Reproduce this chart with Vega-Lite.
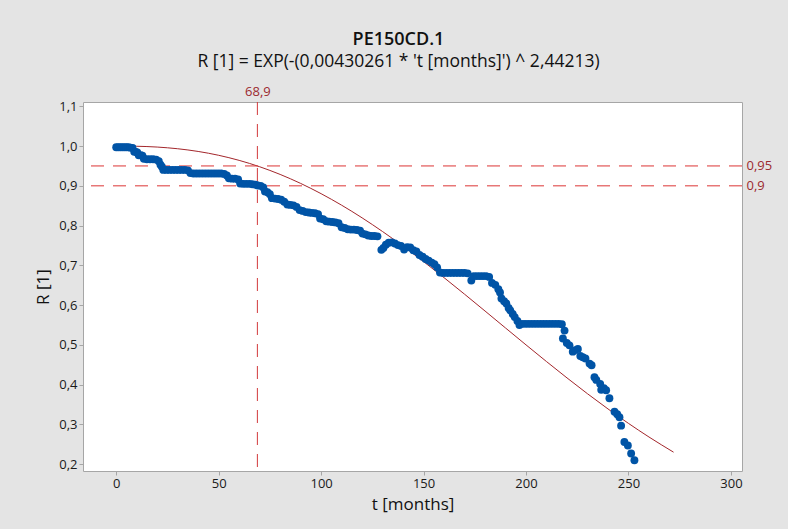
{
  "$schema": "https://vega.github.io/schema/vega-lite/v6.json",
  "width": 659,
  "height": 369,
  "autosize": {"type": "none"},
  "padding": {"left": 83, "top": 102, "right": 46, "bottom": 58},
  "background": "#e4e4e4",
  "title": {
    "text": "PE150CD.1",
    "subtitle": "R [1] = EXP(-(0,00430261 * 't [months]') ^ 2,44213)",
    "anchor": "middle",
    "dx": -14,
    "offset": 15,
    "font": "Open Sans",
    "fontSize": 18,
    "fontWeight": 600,
    "color": "#111111",
    "subtitleFont": "Open Sans",
    "subtitleFontSize": 17.5,
    "subtitleColor": "#111111",
    "subtitlePadding": 4
  },
  "config": {
    "view": {"fill": "#ffffff", "stroke": "#a6a6a6", "strokeWidth": 1},
    "font": "Open Sans",
    "axis": {
      "grid": false,
      "domain": false,
      "labelFont": "Open Sans",
      "labelFontSize": 13,
      "labelColor": "#1a1a1a",
      "tickColor": "#a6a6a6",
      "tickSize": 4,
      "labelPadding": 2,
      "titleFont": "Open Sans",
      "titleFontSize": 17,
      "titleFontWeight": "normal",
      "titleColor": "#111111"
    }
  },
  "datasets": {
    "observed": [
      {"t": 0, "R": 0.997}, {"t": 1, "R": 0.997}, {"t": 2, "R": 0.997}, {"t": 3, "R": 0.997},
      {"t": 4, "R": 0.997}, {"t": 5, "R": 0.997}, {"t": 6, "R": 0.997}, {"t": 7, "R": 0.996},
      {"t": 8, "R": 0.995},
      {"t": 8.8, "R": 0.986}, {"t": 9.6, "R": 0.985}, {"t": 10.3, "R": 0.984},
      {"t": 11, "R": 0.977}, {"t": 12, "R": 0.977}, {"t": 12.8, "R": 0.976},
      {"t": 13.5, "R": 0.968}, {"t": 15, "R": 0.967}, {"t": 16.5, "R": 0.967}, {"t": 18, "R": 0.967},
      {"t": 19.5, "R": 0.966}, {"t": 20.8, "R": 0.962},
      {"t": 21.6, "R": 0.953}, {"t": 22.3, "R": 0.948},
      {"t": 23, "R": 0.94}, {"t": 24.5, "R": 0.94}, {"t": 26, "R": 0.94}, {"t": 27.5, "R": 0.94},
      {"t": 29, "R": 0.94}, {"t": 30.5, "R": 0.94}, {"t": 32, "R": 0.94}, {"t": 33.5, "R": 0.94},
      {"t": 35, "R": 0.939},
      {"t": 36.2, "R": 0.932}, {"t": 37.7, "R": 0.931}, {"t": 39.2, "R": 0.931}, {"t": 40.7, "R": 0.931},
      {"t": 42.2, "R": 0.931}, {"t": 43.7, "R": 0.931}, {"t": 45.2, "R": 0.931}, {"t": 46.7, "R": 0.931},
      {"t": 48.2, "R": 0.931}, {"t": 49.7, "R": 0.931}, {"t": 51.2, "R": 0.931}, {"t": 52.7, "R": 0.93},
      {"t": 54, "R": 0.926},
      {"t": 55, "R": 0.919}, {"t": 56.5, "R": 0.918}, {"t": 58, "R": 0.918}, {"t": 59.5, "R": 0.916},
      {"t": 60.5, "R": 0.906}, {"t": 62, "R": 0.905}, {"t": 63.5, "R": 0.905}, {"t": 65, "R": 0.905},
      {"t": 66.5, "R": 0.904}, {"t": 68, "R": 0.903},
      {"t": 69, "R": 0.901}, {"t": 70.5, "R": 0.9}, {"t": 71.8, "R": 0.896},
      {"t": 72.6, "R": 0.886}, {"t": 73.8, "R": 0.884}, {"t": 75, "R": 0.879},
      {"t": 76, "R": 0.869}, {"t": 77.5, "R": 0.868}, {"t": 79, "R": 0.867}, {"t": 80.5, "R": 0.865},
      {"t": 82, "R": 0.86},
      {"t": 83.5, "R": 0.853}, {"t": 85, "R": 0.852}, {"t": 86.5, "R": 0.851}, {"t": 88, "R": 0.847},
      {"t": 89.5, "R": 0.839}, {"t": 91, "R": 0.837},
      {"t": 92.5, "R": 0.834}, {"t": 94, "R": 0.833}, {"t": 95.5, "R": 0.832}, {"t": 97, "R": 0.831},
      {"t": 98.5, "R": 0.829},
      {"t": 99.5, "R": 0.818}, {"t": 101, "R": 0.816},
      {"t": 102.5, "R": 0.811}, {"t": 104, "R": 0.81}, {"t": 105.5, "R": 0.809}, {"t": 107, "R": 0.808},
      {"t": 108.5, "R": 0.806},
      {"t": 110, "R": 0.796}, {"t": 111.5, "R": 0.794},
      {"t": 113, "R": 0.791}, {"t": 114.5, "R": 0.79}, {"t": 116, "R": 0.79}, {"t": 117.5, "R": 0.789},
      {"t": 119, "R": 0.787},
      {"t": 120.2, "R": 0.78}, {"t": 121.6, "R": 0.778},
      {"t": 123, "R": 0.775}, {"t": 124.5, "R": 0.774}, {"t": 126, "R": 0.774}, {"t": 127.5, "R": 0.773},
      {"t": 129.4, "R": 0.739}, {"t": 130.4, "R": 0.744}, {"t": 131.6, "R": 0.752},
      {"t": 133, "R": 0.757}, {"t": 134.5, "R": 0.758}, {"t": 136, "R": 0.755},
      {"t": 137.5, "R": 0.751}, {"t": 139, "R": 0.749}, {"t": 140.5, "R": 0.74},
      {"t": 142, "R": 0.746}, {"t": 143.5, "R": 0.745}, {"t": 145, "R": 0.738}, {"t": 146.5, "R": 0.735},
      {"t": 148, "R": 0.726}, {"t": 149.5, "R": 0.722},
      {"t": 151, "R": 0.716}, {"t": 152.5, "R": 0.712},
      {"t": 154, "R": 0.707}, {"t": 155.3, "R": 0.703}, {"t": 156.6, "R": 0.695},
      {"t": 158, "R": 0.682}, {"t": 159.5, "R": 0.681}, {"t": 161, "R": 0.681}, {"t": 162.5, "R": 0.681},
      {"t": 164, "R": 0.681}, {"t": 165.5, "R": 0.681}, {"t": 167, "R": 0.681}, {"t": 168.5, "R": 0.681},
      {"t": 170, "R": 0.681}, {"t": 171.5, "R": 0.68},
      {"t": 173.3, "R": 0.662},
      {"t": 174.5, "R": 0.673}, {"t": 176, "R": 0.673}, {"t": 177.5, "R": 0.673}, {"t": 179, "R": 0.673},
      {"t": 180.5, "R": 0.673}, {"t": 182, "R": 0.671},
      {"t": 183.4, "R": 0.656}, {"t": 185, "R": 0.651},
      {"t": 186.5, "R": 0.64}, {"t": 187.3, "R": 0.632}, {"t": 188, "R": 0.617},
      {"t": 189.3, "R": 0.61}, {"t": 190.4, "R": 0.604}, {"t": 191.5, "R": 0.593},
      {"t": 192.3, "R": 0.587}, {"t": 193.5, "R": 0.578}, {"t": 194.5, "R": 0.57},
      {"t": 195.8, "R": 0.56}, {"t": 196.8, "R": 0.55},
      {"t": 198, "R": 0.553}, {"t": 199.5, "R": 0.553}, {"t": 201, "R": 0.553}, {"t": 202.5, "R": 0.553},
      {"t": 204, "R": 0.553}, {"t": 205.5, "R": 0.553}, {"t": 207, "R": 0.553}, {"t": 208.5, "R": 0.553},
      {"t": 210, "R": 0.553}, {"t": 211.5, "R": 0.553}, {"t": 213, "R": 0.553}, {"t": 214.5, "R": 0.553},
      {"t": 216, "R": 0.553}, {"t": 217.5, "R": 0.552},
      {"t": 218.8, "R": 0.536}, {"t": 218, "R": 0.516}, {"t": 219.9, "R": 0.505},
      {"t": 221.2, "R": 0.499}, {"t": 222.8, "R": 0.483}, {"t": 224, "R": 0.487}, {"t": 225.3, "R": 0.49},
      {"t": 226.5, "R": 0.472}, {"t": 227.7, "R": 0.469}, {"t": 229, "R": 0.466},
      {"t": 231, "R": 0.453}, {"t": 232, "R": 0.449},
      {"t": 233.4, "R": 0.419}, {"t": 234.3, "R": 0.412},
      {"t": 236.2, "R": 0.402}, {"t": 236.7, "R": 0.387}, {"t": 238, "R": 0.391}, {"t": 239.1, "R": 0.386},
      {"t": 240.7, "R": 0.366},
      {"t": 243.2, "R": 0.332}, {"t": 244.5, "R": 0.326}, {"t": 245.6, "R": 0.318}, {"t": 246.4, "R": 0.297},
      {"t": 248, "R": 0.256}, {"t": 249.7, "R": 0.247}, {"t": 251.3, "R": 0.227}, {"t": 252.9, "R": 0.21}
    ],
    "fitted": [
      {"t": 0, "R": 1.0}, {"t": 5, "R": 0.99992}, {"t": 10, "R": 0.99954}, {"t": 20, "R": 0.9975},
      {"t": 30, "R": 0.99328}, {"t": 40, "R": 0.98649}, {"t": 50, "R": 0.97681}, {"t": 60, "R": 0.96404},
      {"t": 70, "R": 0.94804}, {"t": 80, "R": 0.92873}, {"t": 90, "R": 0.90613}, {"t": 100, "R": 0.88029},
      {"t": 110, "R": 0.85136}, {"t": 120, "R": 0.81954}, {"t": 130, "R": 0.78506}, {"t": 140, "R": 0.74826},
      {"t": 150, "R": 0.70951}, {"t": 160, "R": 0.66913}, {"t": 170, "R": 0.62757}, {"t": 180, "R": 0.58523},
      {"t": 190, "R": 0.54261}, {"t": 200, "R": 0.5001}, {"t": 210, "R": 0.45813}, {"t": 220, "R": 0.41707},
      {"t": 230, "R": 0.37727}, {"t": 240, "R": 0.33907}, {"t": 250, "R": 0.30272}, {"t": 260, "R": 0.26846},
      {"t": 272, "R": 0.23033}
    ],
    "timeRef": [{"t": 68.9}],
    "reliabilityRef": [{"R": 0.95}, {"R": 0.9}]
  },
  "resolve": {"axis": {"x": "independent", "y": "independent"}},
  "layer": [
    {
      "data": {"name": "fitted"},
      "mark": {"type": "line", "color": "#a3262b", "strokeWidth": 1, "interpolate": "monotone"},
      "encoding": {
        "x": {"field": "t", "type": "quantitative", "scale": {"domain": [-16.2, 305.4], "nice": false, "zero": false},
              "axis": {"orient": "bottom", "values": [0, 50, 100, 150, 200, 250, 300], "title": "t [months]", "titlePadding": 6}},
        "y": {"field": "R", "type": "quantitative", "scale": {"domain": [0.183, 1.1108], "nice": false, "zero": false},
              "axis": {"orient": "left", "values": [0.2, 0.3, 0.4, 0.5, 0.6, 0.7, 0.8, 0.9, 1.0, 1.1],
                       "labelExpr": "replace(format(datum.value, '.1f'), '.', ',')", "title": "R [1]", "titlePadding": 6}}
      }
    },
    {
      "data": {"name": "reliabilityRef"},
      "mark": {"type": "rule", "color": "#dc3535", "strokeWidth": 1, "strokeDash": [13, 9]},
      "encoding": {
        "y": {"field": "R", "type": "quantitative",
              "axis": {"orient": "right", "values": [0.9, 0.95], "ticks": false, "labelPadding": 4,
                       "labelColor": "#9c2a30", "labelFontSize": 13,
                       "labelExpr": "replace(toString(datum.value), '.', ',')", "title": null}}
      }
    },
    {
      "data": {"name": "timeRef"},
      "mark": {"type": "rule", "color": "#d23a3c", "strokeWidth": 1, "strokeDash": [13, 9]},
      "encoding": {
        "x": {"field": "t", "type": "quantitative",
              "axis": {"orient": "top", "values": [68.9], "ticks": false, "labelPadding": 4,
                       "labelColor": "#9c2a30", "labelFontSize": 13,
                       "labelExpr": "replace(toString(datum.value), '.', ',')", "title": null}}
      }
    },
    {
      "data": {"name": "observed"},
      "mark": {"type": "circle", "size": 62, "color": "#0054a6", "opacity": 1},
      "encoding": {
        "x": {"field": "t", "type": "quantitative", "axis": null},
        "y": {"field": "R", "type": "quantitative", "axis": null}
      }
    }
  ]
}
